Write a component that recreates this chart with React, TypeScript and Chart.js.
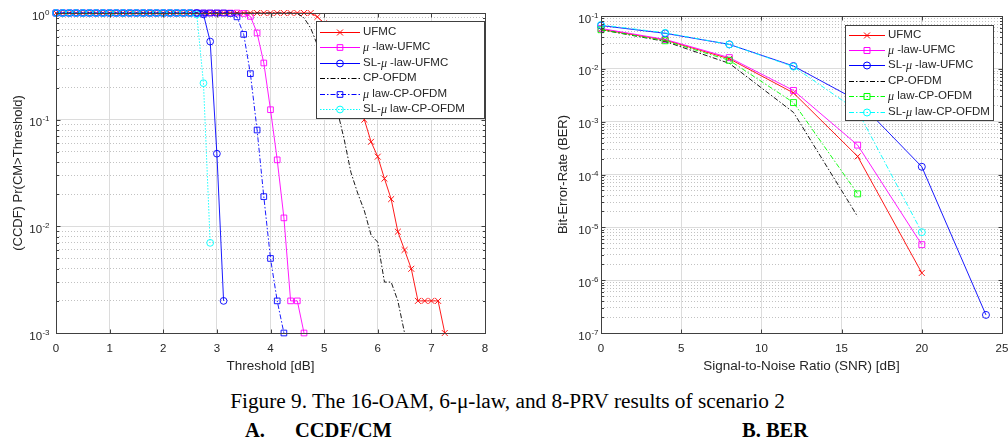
import React, { useEffect, useRef } from 'react';
import { Chart, registerables } from 'chart.js';

Chart.register(...registerables);

const SANS = '"Liberation Sans", Arial, Helvetica, sans-serif';
const SERIF = '"Liberation Serif", "Times New Roman", serif';
const AXIS_COLOR = '#404040';
const TEXT_COLOR = '#262626';
const GRID_MAJOR = '#dcdcdc';
const GRID_MINOR = '#c2c2c2';

// ---------------- A. CCDF / CM ----------------
const thresholdsDb = [
  0, 0.125, 0.25, 0.375, 0.5, 0.625, 0.75, 0.875, 1, 1.125, 1.25, 1.375, 1.5, 1.625, 1.75, 1.875,
  2, 2.125, 2.25, 2.375, 2.5, 2.625, 2.75, 2.875, 3, 3.125, 3.25, 3.375, 3.5, 3.625, 3.75, 3.875,
  4, 4.125, 4.25, 4.375, 4.5, 4.625, 4.75, 4.875, 5, 5.125, 5.25, 5.375, 5.5, 5.625, 5.75, 5.875,
  6, 6.125, 6.25, 6.375, 6.5, 6.625, 6.75, 6.875, 7, 7.125, 7.25,
];
const ccdfXTicks = [0, 1, 2, 3, 4, 5, 6, 7, 8];
const ccdfDecades = [-3, -2, -1, 0];

const ccdfUfmc = [
  1, 1, 1, 1, 1, 1, 1, 1, 1, 1, 1, 1, 1, 1, 1, 1, 1, 1, 1, 1, 1, 1, 1, 1, 1, 1, 1, 1, 1, 1, 1, 1, 1, 1, 1, 1, 1, 1, 1,
  0.92, 0.8, 0.65, 0.48, 0.33, 0.22, 0.15, 0.1, 0.062, 0.045, 0.028, 0.018, 0.0089, 0.006, 0.004,
  0.002, 0.002, 0.002, 0.002, 0.001,
];
const ccdfMuUfmc = [
  1, 1, 1, 1, 1, 1, 1, 1, 1, 1, 1, 1, 1, 1, 1, 1, 1, 1, 1, 1, 1, 1, 1, 1, 1, 1, 1, 1,
  0.99, 0.93, 0.65, 0.34, 0.124, 0.042, 0.012, 0.002, 0.002, 0.001,
];
const ccdfSlMuUfmc = [
  1, 1, 1, 1, 1, 1, 1, 1, 1, 1, 1, 1, 1, 1, 1, 1, 1, 1, 1, 1, 1, 1,
  0.97, 0.54, 0.048, 0.002,
];
const ccdfCpOfdm = [
  1, 1, 1, 1, 1, 1, 1, 1, 1, 1, 1, 1, 1, 1, 1, 1, 1, 1, 1, 1, 1, 1, 1, 1, 1, 1, 1, 1, 1, 1, 1, 1, 1, 1, 1, 1,
  0.99, 0.9, 0.72, 0.5, 0.33, 0.2, 0.12, 0.065, 0.032, 0.0205, 0.014, 0.0083, 0.0071, 0.003, 0.003,
  0.002, 0.001,
];
const ccdfMuCpOfdm = [
  1, 1, 1, 1, 1, 1, 1, 1, 1, 1, 1, 1, 1, 1, 1, 1, 1, 1, 1, 1, 1, 1, 1, 1, 1, 1,
  0.99, 0.92, 0.63, 0.27, 0.08, 0.019, 0.005, 0.002, 0.001,
];
const ccdfSlMuCpOfdm = [
  1, 1, 1, 1, 1, 1, 1, 1, 1, 1, 1, 1, 1, 1, 1, 1, 1, 1, 1, 1, 1,
  0.97, 0.22, 0.007,
];

// ---------------- B. BER ----------------
const snrDb = [0, 4, 8, 12, 16, 20, 24];
const berXTicks = [0, 5, 10, 15, 20, 25];
const berDecades = [-7, -6, -5, -4, -3, -2, -1];

const berUfmc = [0.056, 0.035, 0.0155, 0.0035, 2.2e-4, 1.37e-6];
const berMuUfmc = [0.058, 0.036, 0.0163, 0.0039, 3.6e-4, 4.7e-6];
const berSlMuUfmc = [0.066, 0.047, 0.029, 0.0113, 2.5e-3, 1.4e-4, 2.2e-7];
const berCpOfdm = [0.055, 0.033, 0.0127, 0.0015, 1.6e-5];
const berMuCpOfdm = [0.055, 0.034, 0.0145, 0.0023, 4.3e-5];
const berSlMuCpOfdm = [0.068, 0.048, 0.029, 0.011, 1.6e-3, 8.1e-6];

const seriesNames = [
  'UFMC',
  'μ -law-UFMC',
  'SL-μ -law-UFMC',
  'CP-OFDM',
  'μ law-CP-OFDM',
  'SL-μ law-CP-OFDM',
];

type Style = { color: string; dash: number[]; marker: string | null; r: number };

const DASHDOT = [5, 2, 1.5, 2];
const ccdfStyles: Style[] = [
  { color: '#ff0000', dash: [], marker: 'crossRot', r: 4.2 },
  { color: '#ff00ff', dash: [], marker: 'rect', r: 4 },
  { color: '#0000ff', dash: [], marker: 'circle', r: 3.4 },
  { color: '#000000', dash: DASHDOT, marker: null, r: 0 },
  { color: '#0000ff', dash: DASHDOT, marker: 'rect', r: 4 },
  { color: '#00ffff', dash: [1.5, 1.5], marker: 'circle', r: 3.4 },
];
const berStyles: Style[] = [
  { color: '#ff0000', dash: [], marker: 'crossRot', r: 4.2 },
  { color: '#ff00ff', dash: [], marker: 'rect', r: 4.2 },
  { color: '#0000ff', dash: [], marker: 'circle', r: 3.5 },
  { color: '#000000', dash: DASHDOT, marker: null, r: 0 },
  { color: '#00ff00', dash: DASHDOT, marker: 'rect', r: 4.2 },
  { color: '#00ffff', dash: DASHDOT, marker: 'circle', r: 3.5 },
];

const isPow10 = (v: number | undefined) => {
  if (v === undefined || v <= 0) return false;
  const l = Math.log10(v);
  return Math.abs(l - Math.round(l)) < 1e-9;
};

function logTickValues(decades: number[]) {
  const out: number[] = [];
  for (let i = 0; i < decades.length - 1; i++) {
    for (let m = 1; m <= 9; m++) out.push(Number((m * Math.pow(10, decades[i])).toPrecision(12)));
  }
  out.push(Math.pow(10, decades[decades.length - 1]));
  return out;
}

function drawMarker(ctx: CanvasRenderingContext2D, kind: string | null, x: number, y: number, r: number) {
  if (!kind) return;
  ctx.beginPath();
  if (kind === 'circle') ctx.arc(x, y, r, 0, Math.PI * 2);
  else if (kind === 'rect') {
    const s = r * Math.SQRT1_2;
    ctx.rect(x - s, y - s, 2 * s, 2 * s);
  } else if (kind === 'crossRot') {
    const s = r * Math.SQRT1_2;
    ctx.moveTo(x - s, y - s);
    ctx.lineTo(x + s, y + s);
    ctx.moveTo(x + s, y - s);
    ctx.lineTo(x - s, y + s);
  }
  ctx.stroke();
}

type LegendBox = {
  left: number; top: number; width: number; height: number;
  rowTop: number; rowStep: number; lineX0: number; lineX1: number; textX: number;
};

type Params = {
  xValues: number[];
  series: number[][];
  styles: Style[];
  names: string[];
  xMin: number; xMax: number; xTicks: number[];
  yDecades: number[];
  yWidth: number; padTop: number; padRight: number; xHeight: number;
  xTitle: string; yTitle: string; yTitleX: number; yLabelGap: number;
  legend: LegendBox;
};

function overlayPlugin(p: Params) {
  return {
    id: 'matlabOverlay',
    afterDatasetsDraw(chart: any) {
      const ctx: CanvasRenderingContext2D = chart.ctx;
      const a = chart.chartArea;
      const xs = chart.scales.x;
      const ys = chart.scales.y;
      ctx.save();
      ctx.setLineDash([]);
      ctx.lineWidth = 1;
      ctx.strokeStyle = AXIS_COLOR;
      const L = Math.round(a.left) + 0.5;
      const R = Math.round(a.right) + 0.5;
      const T = Math.round(a.top) + 0.5;
      const B = Math.round(a.bottom) + 0.5;
      ctx.strokeRect(L, T, R - L, B - T);
      // tick marks (inside, all four sides)
      ctx.beginPath();
      p.xTicks.forEach((v) => {
        const px = Math.round(xs.getPixelForValue(v)) + 0.5;
        ctx.moveTo(px, B); ctx.lineTo(px, B - 4);
        ctx.moveTo(px, T); ctx.lineTo(px, T + 4);
      });
      logTickValues(p.yDecades).forEach((v) => {
        const py = Math.round(ys.getPixelForValue(v)) + 0.5;
        const len = isPow10(v) ? 4 : 2.5;
        ctx.moveTo(L, py); ctx.lineTo(L + len, py);
        ctx.moveTo(R, py); ctx.lineTo(R - len, py);
      });
      ctx.stroke();

      // y tick labels 10^k
      ctx.fillStyle = TEXT_COLOR;
      ctx.textBaseline = 'alphabetic';
      p.yDecades.forEach((d) => {
        const py = ys.getPixelForValue(Math.pow(10, d));
        const exp = String(d);
        ctx.font = `8px ${SANS}`;
        const ew = ctx.measureText(exp).width;
        ctx.textAlign = 'right';
        const right = L - p.yLabelGap;
        ctx.fillText(exp, right, py + 1.5);
        ctx.font = `11.5px ${SANS}`;
        ctx.fillText('10', right - ew - 0.3, py + 6.5);
      });

      // axis titles
      ctx.textAlign = 'center';
      ctx.textBaseline = 'middle';
      ctx.font = `13.5px ${SANS}`;
      ctx.fillText(p.xTitle, (a.left + a.right) / 2, 366);
      ctx.font = `13px ${SANS}`;
      ctx.save();
      ctx.translate(p.yTitleX, (a.top + a.bottom) / 2);
      ctx.rotate(-Math.PI / 2);
      ctx.fillText(p.yTitle, 0, 0);
      ctx.restore();

      // legend
      const lg = p.legend;
      ctx.fillStyle = '#ffffff';
      ctx.fillRect(lg.left, lg.top, lg.width, lg.height);
      ctx.strokeStyle = AXIS_COLOR;
      ctx.lineWidth = 1;
      ctx.strokeRect(lg.left + 0.5, lg.top + 0.5, lg.width, lg.height);
      p.names.forEach((name, i) => {
        const st = p.styles[i];
        const y = lg.top + lg.rowTop + i * lg.rowStep;
        ctx.strokeStyle = st.color;
        ctx.lineWidth = 1;
        ctx.setLineDash(st.dash);
        ctx.beginPath();
        ctx.moveTo(lg.lineX0, Math.round(y) + 0.5);
        ctx.lineTo(lg.lineX1, Math.round(y) + 0.5);
        ctx.stroke();
        ctx.setLineDash([]);
        drawMarker(ctx, st.marker, (lg.lineX0 + lg.lineX1) / 2, Math.round(y) + 0.5, st.r);
        // text with italic greek mu
        ctx.fillStyle = TEXT_COLOR;
        ctx.textAlign = 'left';
        ctx.textBaseline = 'middle';
        let x = lg.textX;
        const parts = name.split('μ');
        parts.forEach((part, k) => {
          if (k > 0) {
            ctx.font = `italic 12px ${SERIF}`;
            ctx.fillText('μ', x, y + 1);
            x += ctx.measureText('μ').width;
          }
          ctx.font = `11.5px ${SANS}`;
          ctx.fillText(part, x, y);
          x += ctx.measureText(part).width;
        });
      });
      ctx.restore();
    },
  };
}

function buildConfig(p: Params): any {
  const yTicks = logTickValues(p.yDecades);
  const datasets = p.series.map((vals, i) => {
    const st = p.styles[i];
    return {
      label: p.names[i],
      data: vals.map((v, j) => ({ x: p.xValues[j], y: v })),
      borderColor: st.color,
      borderWidth: 0.9,
      borderDash: st.dash,
      pointStyle: st.marker || 'circle',
      pointRadius: st.marker ? st.r : 0,
      pointBorderColor: st.color,
      pointBackgroundColor: 'rgba(0,0,0,0)',
      pointBorderWidth: 0.9,
      tension: 0,
      fill: false,
      clip: false,
      order: p.series.length - i,
    };
  });
  return {
    type: 'line',
    data: { datasets },
    options: {
      animation: false,
      responsive: false,
      events: [],
      layout: { padding: { left: 0, top: p.padTop, right: p.padRight, bottom: 0 } },
      plugins: { legend: { display: false }, tooltip: { enabled: false } },
      scales: {
        x: {
          type: 'linear',
          min: p.xMin,
          max: p.xMax,
          afterBuildTicks: (s: any) => { s.ticks = p.xTicks.map((v) => ({ value: v })); },
          afterFit: (s: any) => {
            s.height = p.xHeight;
            s.paddingLeft = 0;
            s.paddingRight = 0;
          },
          grid: { drawTicks: false, color: GRID_MAJOR, lineWidth: 1 },
          border: { display: false },
          ticks: {
            autoSkip: false,
            maxRotation: 0,
            padding: 9,
            color: TEXT_COLOR,
            font: { family: SANS, size: 11.5 },
          },
        },
        y: {
          type: 'logarithmic',
          min: Math.pow(10, p.yDecades[0]),
          max: Math.pow(10, p.yDecades[p.yDecades.length - 1]),
          afterBuildTicks: (s: any) => { s.ticks = yTicks.map((v) => ({ value: v, major: isPow10(v) })); },
          afterFit: (s: any) => {
            s.width = p.yWidth;
            s.paddingTop = 0;
            s.paddingBottom = 0;
          },
          grid: {
            drawTicks: false,
            lineWidth: 1,
            color: (c: any) => (c.tick && isPow10(c.tick.value) ? GRID_MAJOR : GRID_MINOR),
          },
          border: {
            display: false,
            dash: (c: any) => (c.tick && !isPow10(c.tick.value) ? [1, 2] : []),
          },
          ticks: { display: false, autoSkip: false },
        },
      },
    },
    plugins: [overlayPlugin(p)],
  };
}

const ccdfParams: Params = {
  xValues: thresholdsDb,
  series: [ccdfUfmc, ccdfMuUfmc, ccdfSlMuUfmc, ccdfCpOfdm, ccdfMuCpOfdm, ccdfSlMuCpOfdm],
  styles: ccdfStyles,
  names: seriesNames,
  xMin: 0, xMax: 8, xTicks: ccdfXTicks,
  yDecades: ccdfDecades,
  yWidth: 56, padTop: 13, padRight: 15, xHeight: 47,
  xTitle: 'Threshold [dB]',
  yTitle: '(CCDF) Pr(CM>Threshold)',
  yTitleX: 18,
  yLabelGap: 7,
  legend: { left: 316, top: 21, width: 168, height: 97, rowTop: 10.5, rowStep: 15.5, lineX0: 320, lineX1: 360, textX: 363 },
};

const berParams: Params = {
  xValues: snrDb,
  series: [berUfmc, berMuUfmc, berSlMuUfmc, berCpOfdm, berMuCpOfdm, berSlMuCpOfdm],
  styles: berStyles,
  names: seriesNames,
  xMin: 0, xMax: 25, xTicks: berXTicks,
  yDecades: berDecades,
  yWidth: 101, padTop: 16, padRight: 6, xHeight: 47,
  xTitle: 'Signal-to-Noise Ratio (SNR) [dB]',
  yTitle: 'Bit-Error-Rate (BER)',
  yTitleX: 63,
  yLabelGap: 3,
  legend: { left: 345, top: 25, width: 148, height: 95, rowTop: 9.5, rowStep: 15.4, lineX0: 349, lineX1: 385, textX: 388 },
};

function ChartCanvas({ params, left, width, height }: { params: Params; left: number; width: number; height: number }) {
  const ref = useRef<HTMLCanvasElement | null>(null);
  useEffect(() => {
    if (!ref.current) return;
    const chart = new Chart(ref.current, buildConfig(params));
    return () => chart.destroy();
  }, [params]);
  return (
    <canvas
      ref={ref}
      width={width}
      height={height}
      style={{ position: 'absolute', left, top: 0, width, height, display: 'block' }}
    />
  );
}

const boldCaption: React.CSSProperties = {
  position: 'absolute', top: 419, fontFamily: SERIF, fontSize: 20.5, fontWeight: 'bold', lineHeight: '22px', color: '#000',
};

export default function App() {
  return (
    <div style={{ position: 'absolute', left: 0, top: 0, width: 1008, height: 446, background: '#ffffff', overflow: 'hidden' }}>
      <ChartCanvas params={ccdfParams} left={0} width={500} height={380} />
      <ChartCanvas params={berParams} left={500} width={508} height={380} />
      <div
        style={{
          position: 'absolute', left: 0, top: 390, width: 1015, textAlign: 'center',
          fontFamily: SERIF, fontSize: 21.3, lineHeight: '22px', color: '#000',
        }}
      >
        Figure 9. The 16-OAM, 6-μ-law, and 8-PRV results of scenario 2
      </div>
      <div style={{ ...boldCaption, left: 245 }}>A.</div>
      <div style={{ ...boldCaption, left: 295 }}>CCDF/CM</div>
      <div style={{ ...boldCaption, left: 742 }}>B. BER</div>
    </div>
  );
}
